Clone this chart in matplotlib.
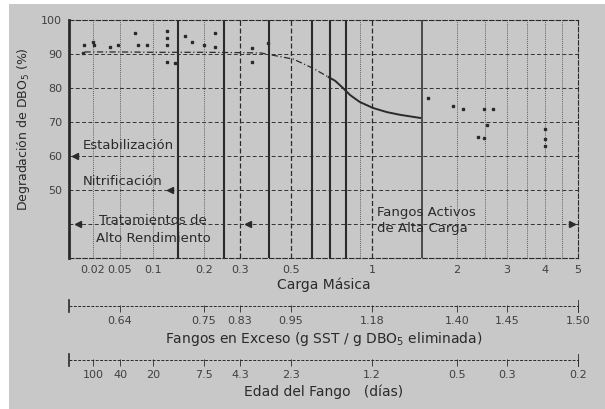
import numpy as np
import matplotlib
matplotlib.use('Agg')
import matplotlib.pyplot as plt
from matplotlib.patches import Rectangle
from matplotlib.ticker import NullLocator

# Carga Masica: the paper scale is not a clean log scale, so ticks carry their paper position
carga_ticks = [0.02, 0.05, 0.1, 0.2, 0.3, 0.5, 1, 2, 3, 4, 5]
carga_labels = ['0.02', '0.05', '0.1', '0.2', '0.3', '0.5', '1', '2', '3', '4', '5']
tick_px = [93, 120, 153, 204, 240, 291, 372, 457, 507, 545, 578]

deg_ticks = [100, 90, 80, 70, 60, 50]

# degradation curve (dashed part, then solid part)
curva_carga_a = [0.015, 0.05, 0.1, 0.2, 0.3, 0.37, 0.46, 0.51, 0.60, 0.69]
curva_deg_a = [90.6, 90.6, 90.5, 90.5, 90.4, 90.3, 89.1, 88.5, 85.9, 83.2]
curva_carga_b = [0.69, 0.73, 0.78, 0.83, 0.90, 1.01, 1.13, 1.26, 1.48]
curva_deg_b = [83.2, 82.1, 80.0, 77.9, 75.9, 74.1, 72.9, 72.1, 71.2]

# measured points
pts_carga = [0.015, 0.0145, 0.02, 0.021, 0.036, 0.047, 0.068, 0.073, 0.088,
             0.121, 0.121, 0.121, 0.121, 0.135, 0.155, 0.17, 0.2, 0.226, 0.226,
             0.34, 0.34, 0.397, 1.58, 1.94, 2.1, 2.49, 2.68, 2.55, 2.37, 2.49,
             4.0, 4.0, 4.0]
pts_deg = [92.6, 90.3, 93.5, 92.6, 92.0, 92.6, 96.2, 92.6, 92.6,
           96.8, 94.7, 92.6, 87.6, 87.4, 95.3, 93.5, 92.6, 96.2, 92.0,
           91.8, 87.6, 93.2, 77.1, 74.7, 73.8, 73.8, 73.8, 69.1, 65.6, 65.3,
           68.0, 65.0, 63.0]

# secondary scales
exceso_carga = [0.05, 0.2, 0.3, 0.5, 1, 2, 3, 5]
exceso_labels = ['0.64', '0.75', '0.83', '0.95', '1.18', '1.40', '1.45', '1.50']
edad_carga = [0.02, 0.05, 0.1, 0.2, 0.3, 0.5, 1, 2, 3, 5]
edad_labels = ['100', '40', '20', '7.5', '4.3', '2.3', '1.2', '0.5', '0.3', '0.2']

# grid lines of the original sheet
grid_dotted = [0.02, 0.05, 0.1, 0.2, 0.9, 2, 2.5, 3, 3.5, 4, 4.5]
grid_dashed = [0.3, 0.5, 1]
grid_thick = [0.14, 0.25, 0.4, 0.6, 0.7, 0.8]
grid_med = [1.5]
grid_h = [90, 80, 70, 60, 50, 40]

INK = '#2a2a2a'
W, H = 605, 409

anchor_v = np.log10([0.001] + carga_ticks + [50])
anchor_p = np.array([4] + tick_px + [900], dtype=float)

def fwd(x):
    return np.interp(np.log10(np.clip(x, 1e-9, None)), anchor_v, anchor_p)

def inv(p):
    return 10 ** np.interp(p, anchor_p, anchor_v)

x_lo, x_hi = inv(69), 5

fig = plt.figure(figsize=(W / 100, H / 100), dpi=100, facecolor='white')
fig.add_artist(Rectangle((9 / W, 0), 1, 1 - 4 / H, transform=fig.transFigure,
                         facecolor='#c8c8c8', edgecolor='none', zorder=0))

ax = fig.add_axes([69 / W, 151 / H, 509 / W, 238 / H])
ax.set_facecolor('none')
ax.set_xscale('function', functions=(fwd, inv))
ax.set_xlim(x_lo, x_hi)
ax.set_ylim(30, 100)

for v in grid_dotted:
    ax.axvline(v, color='#3a3a3a', lw=0.6, ls=(0, (1, 1.5)), zorder=1)
for v in grid_dashed:
    ax.axvline(v, color=INK, lw=0.9, ls=(0, (4, 2)), zorder=1)
for v in grid_thick:
    ax.axvline(v, color=INK, lw=1.5, zorder=1)
for v in grid_med:
    ax.axvline(v, color=INK, lw=1.1, zorder=1)
for v in grid_h:
    ax.axhline(v, color='#333333', lw=0.7, ls=(0, (4, 2.5)), zorder=1)

# arrow heads on the range lines
ax.plot([0.011], [60], marker='<', ms=4, color=INK, ls='none')
ax.plot([0.126], [50], marker='<', ms=4, color=INK, ls='none')
ax.plot([0.012, 0.325], [40, 40], marker='<', ms=4, color=INK, ls='none')
ax.plot([4.8], [40], marker='>', ms=4, color=INK, ls='none')

ax.plot(curva_carga_a, curva_deg_a, color=INK, lw=0.9, ls=(0, (5, 2, 1, 2)), zorder=3)
ax.plot(curva_carga_b, curva_deg_b, color=INK, lw=1.4, zorder=3)
ax.plot(pts_carga, pts_deg, 's', ms=1.8, color=INK, zorder=3)

ax.text(0.0143, 63.2, 'Estabilización', fontsize=9.5, color=INK, va='center')
ax.text(0.0143, 52.4, 'Nitrificación', fontsize=9.5, color=INK, va='center')
ax.text(0.1, 38.4, 'Tratamientos de\nAlto Rendimiento', fontsize=9.5, color=INK,
        ha='center', va='center', linespacing=1.5)
ax.text(1.04, 40.9, 'Fangos Activos\nde Alta Carga', fontsize=9.5, color=INK,
        ha='left', va='center', linespacing=1.3)

for s in ['top', 'right', 'bottom']:
    ax.spines[s].set_linestyle((0, (4, 2)))
    ax.spines[s].set_linewidth(0.8)
    ax.spines[s].set_color(INK)
ax.spines['left'].set_linewidth(2)
ax.spines['left'].set_color(INK)

ax.set_xticks(carga_ticks, carga_labels)
ax.xaxis.set_minor_locator(NullLocator())
ax.set_yticks(deg_ticks)
ax.tick_params(length=0, pad=5, labelsize=8, labelcolor='#404040')
ax.set_xlabel('Carga Másica', fontsize=10, color=INK, labelpad=2)
ax.set_ylabel('Degradación de DBO$_5$ (%)', fontsize=9, color=INK)
ax.yaxis.set_label_coords(-0.073, 0.54)


def scale_row(y_line, ticks, labels, title):
    a = fig.add_axes([69 / W, (H - y_line - 6) / H, 509 / W, 12 / H])
    a.set_facecolor('none')
    a.set_xscale('function', functions=(fwd, inv))
    a.set_xlim(x_lo, x_hi)
    a.set_ylim(0, 1)
    a.axhline(0.5, color=INK, lw=0.7, ls=(0, (3, 1.5)))
    for s in ['top', 'bottom']:
        a.spines[s].set_visible(False)
    a.spines['left'].set_linewidth(1.2)
    a.spines['right'].set_linewidth(0.6)
    a.spines['left'].set_color(INK)
    a.spines['right'].set_color(INK)
    a.set_yticks([])
    a.set_xticks(ticks, labels)
    a.xaxis.set_minor_locator(NullLocator())
    a.tick_params(axis='x', direction='in', length=5, width=0.6, color=INK,
                  pad=3, labelsize=8, labelcolor='#404040')
    a.set_xlabel(title, fontsize=10, color=INK, labelpad=3)
    return a


scale_row(306, exceso_carga, exceso_labels,
          'Fangos en Exceso (g SST / g DBO$_5$ eliminada)')
scale_row(360, edad_carga, edad_labels, 'Edad del Fango   (días)')

fig.savefig('out.png', dpi=100, facecolor=fig.get_facecolor())
